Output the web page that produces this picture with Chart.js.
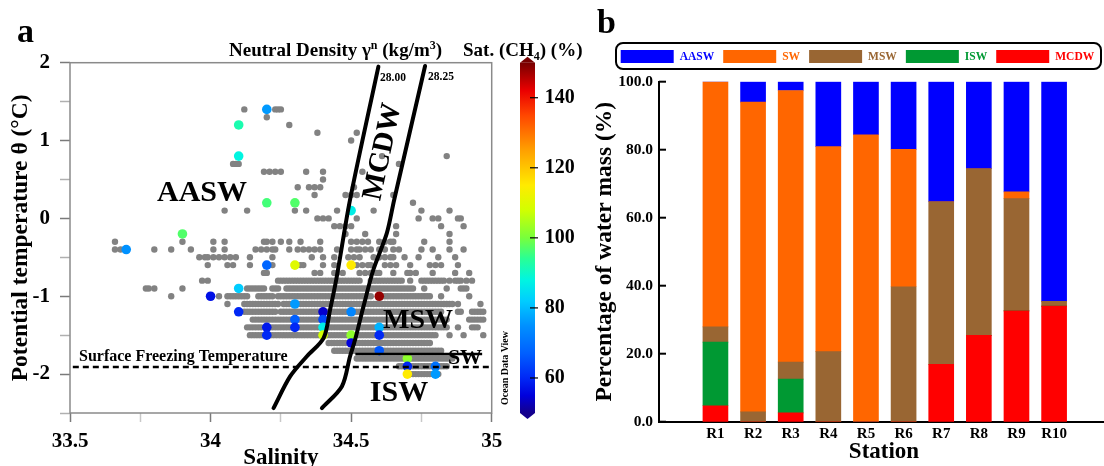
<!DOCTYPE html>
<html>
<head>
<meta charset="utf-8">
<title>Water masses</title>
<script src="https://cdn.jsdelivr.net/npm/chart.js@4.4.1/dist/chart.umd.min.js"></script>
<style>
  html, body { margin: 0; padding: 0; background: #fff; overflow: hidden; width: 1104px; height: 466px; }
  #panelA { position: absolute; left: 0; top: 0; }
  #panelB { position: absolute; left: 590px; top: 0; }
</style>
</head>
<body>
<canvas id="panelA" width="600" height="466"></canvas>
<canvas id="panelB" width="530" height="466"></canvas>
<script>
// ---------------- Panel a: theta–S diagram ----------------
// Temperature of each sample row (°C)
const rowTemps = [1.4, 1.3, 1.2, 1.1, 1.0, 0.9, 0.8, 0.7, 0.6, 0.5, 0.4, 0.3, 0.2, 0.1, 0.0,
  -0.1, -0.2, -0.3, -0.4, -0.5, -0.6, -0.7, -0.8, -0.9, -1.0, -1.1, -1.2, -1.3, -1.4, -1.5,
  -1.6, -1.7, -1.8, -1.9, -2.0];
// Salinity occupancy per row: one character per 0.01 starting at 33.60,
// grouped per 0.1 psu (spaces ignored). '#' marks a CTD sample.
const rowCells = [
  ".......... .......... .......... .......... .......... ..#....... ...###....",
  ".......... .......... .......... .......... .......... .......... #.........",
  ".......... .......... .......... .......... .......... .......... ........#.",
  ".......... .......... .......... .......... .......... .......... .......... ........#. .......... ..#.......",
  ".......... .......... .......... .......... .......... .......... .......... .......... .......... #.........",
  "",
  ".......... .......... .......... .......... .......... .......... .......... .......... .......... .......... .#........ .......... ....#.....",
  ".......... .......... .......... .......... ........## #......... .......... .......... .......... .......... .......#..",
  ".......... .......... .......... .......... .......... .........# .#.#.#.... ....#..... #......... ....#.....",
  ".......... .......... .......... .......... .......... .......... .......... .......... #.........",
  ".......... .......... .......... .......... .......... .......... .......... .#...#.#.# .......... .#........",
  ".......... .......... .......... .......... .......... .......... .......... .......#.. ........#. #.#....... .....#....",
  ".......... .......... .......... .......... .......... .......... .......... .......... .......... .......... .......... ..#.......",
  ".......... .......... .......... .......... .....#.... ...#...... .......... #...#..... .....#.... ........#. .......... .....#.... .....#....",
  ".......... .......... .......... .......... .......... .......... .......... ........#. #.#....... ..#....... .......... ....#....# .#......##",
  ".......... .......... .......... .......... .......... .......... .......... .......... ....#.#.#. #......... ......#... .......... ..#....... #.........",
  ".......... .......... .......... .......... .......... .......... .......... .......... ........#. .....#.... ......#... .......... .....#....",
  "......#... .......... .......... #......... .#...#.... .........# #.#..#..#. ..#......# .......... #.#.#.#... #.#.##.... ......#... .....#....",
  "......#.#. .......... #.....#... ...#...... .#...#.... ......#.#. #.##....#. .#.#.#.#.# .....#.... #.##.#.#.. #.#..#.#.. .....#...# .....#.... #.........",
  ".......... .......... .......... ......#.## .#.#.#.#.# ....#..... ..#....... ......#... #...#....# .#.#....#. #.#.##...# ....#..... .#.....#..",
  ".......... .......... .......... .........# ......#.#. ....#..... ..#....... ..##...... #...#..... ..#.#.##.. ..#.#.#... .#......#. #.#.....#.",
  ".......... .......... .......... .......... .......... .........# #......... .......#.# ....##.#.. ...#.#.#.# #....#.... ##.#.....# .......#.. ..#.......",
  ".......... .......... .......... .......#.# .......... .......... ....###### ########## ########## ####...### #########. .#...##### ####.#.### .#.#......",
  ".......... .......##. #......... #......... .......... ...####### ..###..### ########## ########## ########## ########## ###...#... ....#....# ##........",
  ".......... .......... ......#... .......... ...#..#### ####...### ###.###### ########## ########## ########.. .######### #########. ..#....... ..#.......",
  ".......... .......... .......... .......... ......#... ..######## #####.#### ########## ########## ########## ########## ########## #######.#. ......#...",
  ".......... .......... .......... .......... .......... ..######## ####.##### ########## ########## ########## ########## ########## ###.....## ...#####..",
  ".......... .......... .......... .......... .......... .....##### ########## ########## ########## ########## ########## ########## #####..... ..######..",
  ".......... .......... .......... .......... .......... ...######. ########## ########## ########## ########## ########## ########## #####...#. ...###....",
  ".......... .......... .......... .......... .......... ....###### ########## ########## ########## ########## ########## ########## #....#.... #......#..",
  ".......... .......... .......... .......... .......... .......... .......... .......... ..######## ########## ########## #########.",
  ".......... .......... .......... .......... .......... .......... .......... .......... ....###### ########## ########## ########## ###.......",
  ".......... .......... .......... .......... .......... .......... .......... .......... .......... ..######## ########## ########## #######...",
  ".......... .......... .......... .......... .......... .......... .......... .......... .......... .......... .......### ########## #####.....",
  ".......... .......... .......... .......... .......... .......... .......... .......... .......... .......... .......... ########## ##........"
];

// Samples with CH4 saturation (%)
const satSalinity = [34.2, 34.1, 34.1, 34.2, 34.3, 33.9, 33.7, 34.2, 34.3, 34.1, 34.0, 34.1,
  34.2, 34.2, 34.3, 34.3, 34.3, 34.4, 34.4, 34.4, 34.4, 34.5, 34.5, 34.5, 34.5, 34.5,
  34.6, 34.6, 34.6, 34.6, 34.7, 34.7, 34.7, 34.8, 34.8];
const satTheta = [1.4, 1.2, 0.8, 0.2, 0.2, -0.2, -0.4, -0.6, -0.6, -0.9, -1.0, -1.2,
  -1.4, -1.5, -1.1, -1.3, -1.4, -1.2, -1.3, -1.4, -1.5, -1.2, -1.5, -1.6, 0.1, -0.6,
  -1.0, -1.4, -1.5, -1.7, -1.8, -1.9, -2.0, -1.9, -2.0];
const satValue = [76, 92, 88, 96, 97, 97, 75, 68, 110, 82, 57, 60,
  58, 60, 76, 67, 60, 54, 64, 87, 108, 73, 102, 55, 87, 115,
  148, 79, 60, 66, 102, 60, 115, 70, 76];

// Neutral density isopycnals (salinity, theta)
const iso2800S = [34.224, 34.283, 34.342, 34.402, 34.425, 34.449, 34.496, 34.597];
const iso2800T = [-2.437, -2.03, -1.774, -1.538, -1.175, -0.747, 0.237, 1.95];
const iso2825S = [34.396, 34.467, 34.496, 34.514, 34.544, 34.579, 34.627, 34.653, 34.763];
const iso2825T = [-2.437, -2.16, -1.774, -1.56, -1.13, -0.66, -0.19, 0.237, 1.958];
// Shelf water upper bound and surface freezing temperature
const swBoundS = [34.515, 34.966];
const swBoundT = [-1.743, -1.743];
const freezeS = [33.51, 35.0];
const freezeT = [-1.91, -1.91];

const salinityTicks = [33.5, 34, 34.5, 35];
const thetaTicks = [-2, -1, 0, 1, 2];
const satTicks = [60, 80, 100, 120, 140];

// ---------------- Panel b: water mass fractions ----------------
const stations = ['R1', 'R2', 'R3', 'R4', 'R5', 'R6', 'R7', 'R8', 'R9', 'R10'];
const fracMCDW = [4.7, 0, 2.6, 0, 0, 0, 16.9, 25.4, 32.6, 34.0];
const fracISW  = [18.7, 0, 9.9, 0, 0, 0, 0, 0, 0, 0];
const fracMSW  = [4.5, 2.9, 5.0, 20.6, 0, 39.7, 47.8, 49.0, 33.0, 1.4];
const fracSW   = [72.1, 91.1, 79.9, 60.3, 84.4, 40.4, 0, 0, 2.0, 0];
const fracAASW = [0, 6.0, 2.6, 19.1, 15.6, 19.9, 35.3, 25.6, 32.4, 64.6];
const percentTicks = [0, 20, 40, 60, 80, 100];

// ---------------- helpers ----------------
const FONT = '"Liberation Serif", "Times New Roman", serif';
Chart.defaults.font.family = FONT;
Chart.defaults.font.weight = 'bold';
Chart.defaults.color = '#000';

const cmap = [
  [50, [20, 0, 140]], [55, [0, 0, 220]], [60, [0, 40, 245]], [67, [0, 95, 255]],
  [75, [0, 145, 255]], [82, [0, 205, 255]], [88, [0, 245, 225]], [94, [40, 255, 150]],
  [100, [120, 255, 60]], [108, [210, 255, 0]], [115, [255, 235, 0]], [125, [255, 160, 0]],
  [135, [255, 70, 0]], [142, [235, 0, 0]], [150, [120, 0, 0]]
];
function satColor(v) {
  if (v <= cmap[0][0]) return `rgb(${cmap[0][1].join(',')})`;
  for (let i = 1; i < cmap.length; i++) {
    if (v <= cmap[i][0]) {
      const [v0, c0] = cmap[i - 1], [v1, c1] = cmap[i];
      const f = (v - v0) / (v1 - v0);
      const c = c0.map((a, k) => Math.round(a + (c1[k] - a) * f));
      return `rgb(${c.join(',')})`;
    }
  }
  return `rgb(${cmap[cmap.length - 1][1].join(',')})`;
}

function richText(ctx, parts, x, y, size, align) {
  const base = `bold ${size}px ${FONT}`;
  const small = `bold ${Math.round(size * 0.62)}px ${FONT}`;
  let w = 0;
  parts.forEach(([t, m]) => { ctx.font = m ? small : base; w += ctx.measureText(t).width; });
  let cx = align === 'right' ? x - w : align === 'center' ? x - w / 2 : x;
  ctx.textAlign = 'left';
  ctx.textBaseline = 'alphabetic';
  parts.forEach(([t, m]) => {
    ctx.font = m ? small : base;
    const dy = m === 'sup' ? -size * 0.36 : m === 'sub' ? size * 0.2 : 0;
    ctx.fillText(t, cx, y + dy);
    cx += ctx.measureText(t).width;
  });
}
function label(ctx, text, x, y, size, opts = {}) {
  ctx.save();
  ctx.font = `bold ${size}px ${FONT}`;
  ctx.fillStyle = opts.color || '#000';
  ctx.textAlign = opts.align || 'center';
  ctx.textBaseline = opts.baseline || 'middle';
  ctx.translate(x, y);
  if (opts.rotate) ctx.rotate(opts.rotate * Math.PI / 180);
  ctx.fillText(text, 0, 0);
  ctx.restore();
}
const zip = (xs, ys) => xs.map((x, i) => ({ x, y: ys[i] }));
// fixed axis box with no extra label overhang, so the plot area lands where intended
const fixBox = (w, h) => s => {
  if (w !== null) s.width = w;
  if (h !== null) s.height = h;
  s.paddingTop = s.paddingBottom = s.paddingLeft = s.paddingRight = 0;
};
const near = (v, list) => list.some(t => Math.abs(t - v) < 1e-6);

// gray samples decoded from the occupancy rows
const grayPts = [];
rowTemps.forEach((t, r) => {
  const cells = rowCells[r].replace(/ /g, '');
  for (let c = 0; c < cells.length; c++) {
    if (cells[c] === '#') grayPts.push({ x: +(33.6 + c * 0.01).toFixed(2), y: t });
  }
});
const satPts = zip(satSalinity, satTheta);
const satColors = satValue.map(satColor);

// ---------------- panel a decorations ----------------
const tsDecor = {
  id: 'tsDecor',
  afterDraw(chart) {
    const { ctx, chartArea: a } = chart;
    const cb = chart.scales.cb;
    ctx.save();
    // plot frame
    ctx.strokeStyle = '#8a8a8a';
    ctx.lineWidth = 1.5;
    ctx.strokeRect(a.left, a.top, a.right - a.left, a.bottom - a.top);

    // colour bar
    const x0 = 520, x1 = 535;
    const yLo = cb.getPixelForValue(50), yHi = cb.getPixelForValue(150);
    const g = ctx.createLinearGradient(0, yLo, 0, yHi);
    cmap.forEach(([v, c]) => g.addColorStop((v - 50) / 100, `rgb(${c.join(',')})`));
    ctx.fillStyle = g;
    ctx.fillRect(x0, yHi, x1 - x0, yLo - yHi);
    ctx.fillStyle = satColor(150);
    ctx.beginPath(); ctx.moveTo(x0, yHi); ctx.lineTo(x1, yHi); ctx.lineTo((x0 + x1) / 2, yHi - 6); ctx.closePath(); ctx.fill();
    ctx.fillStyle = satColor(50);
    ctx.beginPath(); ctx.moveTo(x0, yLo); ctx.lineTo(x1, yLo); ctx.lineTo((x0 + x1) / 2, yLo + 6); ctx.closePath(); ctx.fill();
    ctx.strokeStyle = '#000';
    ctx.lineWidth = 1.2;
    satTicks.forEach(v => {
      const y = cb.getPixelForValue(v);
      ctx.beginPath(); ctx.moveTo(530, y); ctx.lineTo(538, y); ctx.stroke();
    });
    ctx.restore();

    // titles
    label(ctx, 'a', 17, 42, 34, { align: 'left', baseline: 'alphabetic' });
    ctx.fillStyle = '#000';
    richText(ctx, [['Neutral Density γ', ''], ['n', 'sup'], [' (kg/m', ''], ['3', 'sup'], [')', '']], 229, 56, 19, 'left');
    richText(ctx, [['Sat. (CH', ''], ['4', 'sub'], [') (%)', '']], 463, 56, 19, 'left');
    label(ctx, 'Potential temperature θ (°C)', 21, (a.top + a.bottom) / 2, 23.5, { rotate: -90 });
    label(ctx, 'Salinity', (a.left + a.right) / 2, 458, 23);
    label(ctx, 'Ocean Data View', 505, 368, 10, { rotate: -90 });

    // water mass annotations
    label(ctx, 'AASW', 202, 193, 30);
    label(ctx, 'MCDW', 383, 152, 29, { rotate: -78 });
    label(ctx, 'MSW', 418, 321, 28);
    label(ctx, 'SW', 465, 358, 22);
    label(ctx, 'ISW', 399, 393, 30);
    label(ctx, 'Surface Freezing Temperature', 79, 357, 16, { align: 'left' });
    label(ctx, '28.00', 380, 78, 11.5, { align: 'left' });
    label(ctx, '28.25', 428, 77, 11.5, { align: 'left' });
  }
};

new Chart(document.getElementById('panelA'), {
  type: 'scatter',
  data: {
    datasets: [
      { label: '28.00', data: zip(iso2800S, iso2800T), showLine: true, borderColor: '#000', borderWidth: 4,
        pointRadius: 0, tension: 0.3, borderCapStyle: 'round', borderJoinStyle: 'round', order: 0 },
      { label: '28.25', data: zip(iso2825S, iso2825T), showLine: true, borderColor: '#000', borderWidth: 4,
        pointRadius: 0, tension: 0.3, borderCapStyle: 'round', borderJoinStyle: 'round', order: 0 },
      { label: 'SW', data: zip(swBoundS, swBoundT), showLine: true, borderColor: '#000', borderWidth: 2.5,
        pointRadius: 0, order: 0 },
      { label: 'Surface Freezing Temperature', data: zip(freezeS, freezeT), showLine: true, borderColor: '#000',
        borderWidth: 2.5, borderDash: [6, 4], pointRadius: 0, order: 0 },
      { label: 'Sat. (CH4)', data: satPts, pointRadius: 4.8, pointBackgroundColor: satColors,
        pointBorderWidth: 0, order: 1 },
      { label: 'samples', data: grayPts, pointRadius: 3.2, pointBackgroundColor: '#828282',
        pointBorderWidth: 0, order: 2 }
    ]
  },
  options: {
    responsive: false,
    animation: false,
    events: [],
    layout: { padding: { top: 62.7, left: 0, right: 0, bottom: 0 } },
    plugins: { legend: { display: false }, tooltip: { enabled: false } },
    scales: {
      x: {
        type: 'linear', min: 33.5, max: 35,
        afterFit: fixBox(null, 53),
        ticks: { stepSize: 0.25, autoSkip: false, maxRotation: 0, padding: 7,
          font: { size: 21, weight: 'bold' }, color: '#000',
          callback: v => near(v, salinityTicks) ? String(v) : '' },
        grid: { drawOnChartArea: false, tickLength: 9,
          tickColor: c => near(c.tick.value, salinityTicks) ? '#7a7a7a' : '#c8c8c8', tickWidth: 1.5 },
        border: { display: false }
      },
      y: {
        type: 'linear', min: -2.5, max: 2,
        afterFit: fixBox(70, null),
        ticks: { stepSize: 0.5, autoSkip: false, padding: 10,
          font: { size: 21, weight: 'bold' }, color: '#000',
          callback: v => near(v, thetaTicks) ? String(v) : '' },
        grid: { drawOnChartArea: false, tickLength: 10,
          tickColor: c => near(c.tick.value, thetaTicks) ? '#7a7a7a' : '#b0b0b0', tickWidth: 1.5 },
        border: { display: false }
      },
      cb: {
        type: 'linear', position: 'right', min: 50, max: 150,
        afterFit: fixBox(600 - 491.7, null),
        afterBuildTicks: s => { s.ticks = satTicks.map(value => ({ value })); },
        ticks: { padding: 53, font: { size: 20, weight: 'bold' }, color: '#000' },
        grid: { display: false, drawTicks: false },
        border: { display: false }
      }
    }
  },
  plugins: [tsDecor]
});

// ---------------- panel b ----------------
const series = [
  { label: 'MCDW', values: fracMCDW, color: '#ff0000' },
  { label: 'ISW', values: fracISW, color: '#009933' },
  { label: 'MSW', values: fracMSW, color: '#996633' },
  { label: 'SW', values: fracSW, color: '#ff6600' },
  { label: 'AASW', values: fracAASW, color: '#0000ff' }
];

const barDecor = {
  id: 'barDecor',
  afterDraw(chart) {
    const { ctx, chartArea: a } = chart;
    const y = chart.scales.y;
    ctx.save();
    // inward ticks on the percentage axis
    ctx.strokeStyle = '#000';
    ctx.lineWidth = 2;
    percentTicks.forEach(v => {
      const py = y.getPixelForValue(v);
      ctx.beginPath(); ctx.moveTo(a.left, py); ctx.lineTo(a.left + 7, py); ctx.stroke();
    });
    // legend (top-most series first)
    const items = chart.data.datasets.slice().reverse();
    ctx.lineWidth = 2;
    ctx.beginPath();
    ctx.roundRect(26, 43, 485, 26, 7);
    ctx.stroke();
    ctx.font = `bold 11.5px ${FONT}`;
    ctx.textBaseline = 'middle';
    ctx.textAlign = 'left';
    let x = 30.7;
    items.forEach(ds => {
      ctx.fillStyle = ds.backgroundColor;
      ctx.fillRect(x, 50, 53, 13);
      x += 53 + 6;
      ctx.fillText(ds.label, x, 57);
      x += ctx.measureText(ds.label).width + 9;
    });
    ctx.restore();
    label(ctx, 'b', 7, 33, 34, { align: 'left', baseline: 'alphabetic' });
    label(ctx, 'Percentage of water mass (%)', 15, (a.top + a.bottom) / 2, 23.5, { rotate: -90 });
    label(ctx, 'Station', 294, 452, 23);
  }
};

new Chart(document.getElementById('panelB'), {
  type: 'bar',
  data: {
    datasets: series.map(s => ({
      label: s.label,
      data: stations.map((_, i) => ({ x: i + 1, y: s.values[i] })),
      backgroundColor: s.color,
      borderWidth: 0,
      barThickness: 25
    }))
  },
  options: {
    responsive: false,
    animation: false,
    events: [],
    layout: { padding: { top: 81.7, left: 0, right: 9.45, bottom: 0 } },
    plugins: { legend: { display: false }, tooltip: { enabled: false } },
    scales: {
      x: {
        type: 'linear', min: 0, max: 11, stacked: true,
        afterFit: fixBox(null, 466 - 421.7),
        ticks: { stepSize: 1, autoSkip: false, maxRotation: 0, padding: 3,
          font: { size: 15, weight: 'bold' }, color: '#000',
          callback: v => stations[v - 1] || '' },
        grid: { display: false, drawTicks: false },
        border: { color: '#000', width: 2 }
      },
      y: {
        min: 0, max: 100, stacked: true,
        afterFit: fixBox(69, null),
        ticks: { stepSize: 20, padding: 6, font: { size: 15.5, weight: 'bold' }, color: '#000',
          callback: v => percentTicks.includes(v) ? v.toFixed(1) : '' },
        grid: { display: false, drawTicks: false },
        border: { color: '#000', width: 2 }
      }
    }
  },
  plugins: [barDecor]
});
</script>
</body>
</html>
